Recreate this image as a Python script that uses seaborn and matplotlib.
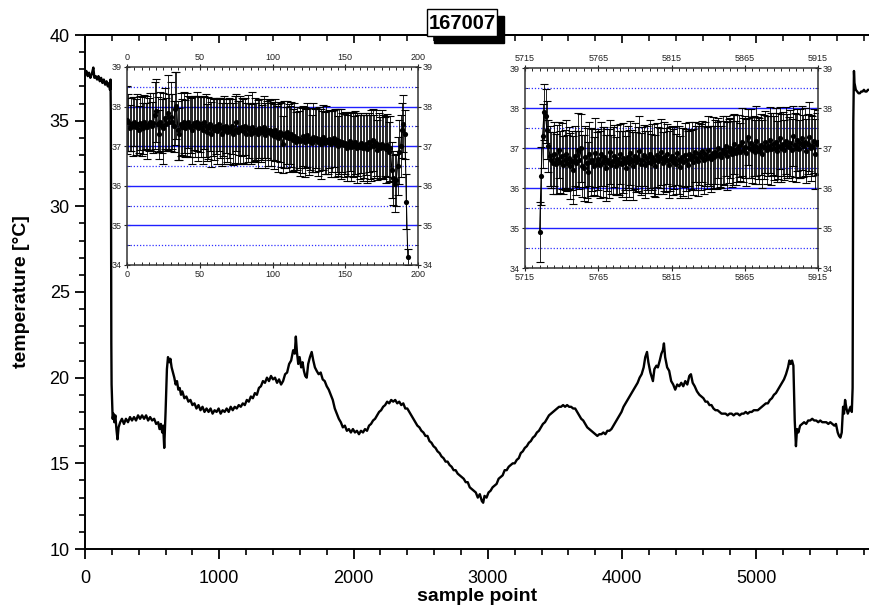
import matplotlib
matplotlib.use("Agg")
import matplotlib.pyplot as plt
from matplotlib.patches import Rectangle
import pandas as pd
import seaborn as sns
from matplotlib.ticker import MultipleLocator

# ---------------- data ----------------
title_text = "167007"
xlabel_text = "sample point"
ylabel_text = "temperature [°C]"

main_x = [0, 10, 20, 30, 40, 50, 62, 70, 80, 90, 100, 110, 120, 130, 140, 150, 160, 170, 180, 186,
          190, 192, 194, 196, 198, 202, 206, 212, 218, 226, 234, 242, 250, 262, 275, 290, 305, 320,
          335, 350, 365, 380, 395, 410, 425, 440, 455, 470, 485, 500, 515, 530, 545, 555, 565, 575,
          582, 590, 600, 610, 618, 628, 636, 645, 655, 665, 675, 685, 695, 705, 715, 725, 740, 755,
          770, 785, 800, 815, 830, 845, 860, 875, 890, 905, 920, 935, 950, 965, 980, 995, 1010, 1025,
          1040, 1055, 1070, 1085, 1100, 1115, 1130, 1145, 1160, 1175, 1190, 1205, 1220, 1235, 1250,
          1265, 1280, 1295, 1310, 1325, 1340, 1355, 1370, 1385, 1400, 1415, 1430, 1445, 1460, 1475,
          1490, 1505, 1520, 1535, 1550, 1562, 1570, 1578, 1588, 1598, 1610, 1620, 1630, 1640, 1651,
          1662, 1675, 1688, 1700, 1712, 1725, 1740, 1755, 1770, 1785, 1800, 1815, 1830, 1845, 1860,
          1875, 1890, 1905, 1920, 1935, 1950, 1965, 1980, 1995, 2010, 2025, 2040, 2055, 2070, 2085,
          2100, 2115, 2130, 2145, 2160, 2175, 2190, 2205, 2220, 2235, 2250, 2265, 2280, 2295, 2310,
          2325, 2340, 2355, 2370, 2385, 2400, 2415, 2430, 2445, 2460, 2475, 2490, 2505, 2520, 2535,
          2550, 2565, 2580, 2595, 2610, 2625, 2640, 2655, 2670, 2685, 2700, 2715, 2730, 2745, 2760,
          2775, 2790, 2805, 2820, 2835, 2850, 2865, 2880, 2895, 2910, 2925, 2940, 2955, 2965, 2975,
          2990, 3005, 3020, 3035, 3050, 3065, 3080, 3095, 3110, 3125, 3140, 3155, 3170, 3185, 3200,
          3215, 3230, 3245, 3260, 3275, 3290, 3305, 3320, 3335, 3350, 3365, 3380, 3395, 3410, 3425,
          3440, 3455, 3470, 3485, 3500, 3515, 3530, 3545, 3560, 3575, 3590, 3605, 3620, 3635, 3650,
          3665, 3680, 3695, 3710, 3725, 3740, 3755, 3770, 3785, 3800, 3815, 3830, 3845, 3860, 3875,
          3890, 3905, 3920, 3935, 3950, 3965, 3980, 3995, 4010, 4025, 4040, 4055, 4070, 4085, 4100,
          4115, 4130, 4145, 4160, 4172, 4185, 4195, 4210, 4229, 4240, 4255, 4266, 4280, 4292, 4303,
          4311, 4320, 4335, 4350, 4365, 4380, 4395, 4410, 4425, 4440, 4455, 4470, 4485, 4500, 4512,
          4525, 4540, 4557, 4575, 4590, 4605, 4620, 4635, 4650, 4665, 4680, 4695, 4710, 4725, 4740,
          4755, 4770, 4785, 4800, 4815, 4830, 4845, 4860, 4875, 4890, 4905, 4920, 4935, 4950, 4965,
          4980, 4995, 5010, 5025, 5040, 5055, 5070, 5085, 5100, 5115, 5130, 5145, 5160, 5175, 5190,
          5205, 5220, 5235, 5245, 5255, 5265, 5275, 5285, 5294, 5302, 5312, 5325, 5340, 5355, 5370,
          5385, 5400, 5415, 5430, 5445, 5460, 5475, 5490, 5505, 5520, 5535, 5550, 5565, 5580, 5592,
          5605, 5615, 5625, 5635, 5645, 5652, 5660, 5670, 5680, 5690, 5700, 5710, 5716, 5721, 5723,
          5726, 5730, 5740, 5750, 5760, 5770, 5780, 5790, 5800, 5810, 5820, 5830, 5840]

main_temp = [37.7, 37.9, 37.6, 37.8, 37.5, 37.7, 38.1, 37.5, 37.6, 37.4, 37.6, 37.3, 37.5, 37.2, 37.4, 37.1, 37.3, 37.0, 37.2, 36.8,
             37.4, 35.6, 30.0, 22.0, 19.6, 18.5, 17.6, 17.9, 17.4, 17.8, 17.0, 16.4, 17.1, 17.4, 17.6, 17.3, 17.6, 17.4,
             17.7, 17.5, 17.7, 17.5, 17.8, 17.6, 17.8, 17.6, 17.8, 17.5, 17.7, 17.5, 17.6, 17.3, 17.4, 17.0, 17.3, 16.8,
             17.2, 15.9, 18.0, 20.5, 21.2, 20.9, 21.1, 20.6, 20.3, 20.0, 19.6, 19.8, 19.3, 19.4, 19.0, 19.2, 18.8, 18.9,
             18.6, 18.7, 18.4, 18.5, 18.2, 18.4, 18.1, 18.3, 18.0, 18.2, 18.0, 18.2, 17.9, 18.1, 18.0, 18.2, 17.9, 18.1,
             18.0, 18.2, 18.0, 18.3, 18.1, 18.3, 18.2, 18.4, 18.3, 18.5, 18.4, 18.7, 18.6, 18.9, 18.8,
             19.1, 19.0, 19.4, 19.5, 19.8, 19.7, 20.0, 19.8, 20.1, 19.9, 20.0, 19.7, 19.9, 19.6, 19.8,
             20.2, 20.3, 20.8, 21.0, 21.6, 21.4, 22.4, 21.5, 20.8, 21.2, 20.6, 20.9, 20.4, 20.1, 20.0,
             20.8, 21.2, 21.5, 21.0, 20.6, 20.4, 20.2, 20.3, 19.9, 19.8, 19.5, 19.3, 19.0, 18.7, 18.2,
             17.9, 17.6, 17.4, 17.1, 17.2, 16.9, 17.0, 16.8, 17.0, 16.8, 16.9, 16.7, 16.9, 16.8, 17.0,
             16.9, 17.2, 17.3, 17.5, 17.6, 17.8, 18.0, 18.1, 18.3, 18.4, 18.6, 18.5, 18.7, 18.6, 18.7,
             18.5, 18.6, 18.4, 18.5, 18.2, 18.2, 18.0, 17.8, 17.6, 17.4, 17.2, 17.1, 16.9, 16.8, 16.6,
             16.6, 16.3, 16.2, 16.0, 15.9, 15.7, 15.6, 15.4, 15.3, 15.1, 15.1, 14.9, 14.8, 14.6, 14.6,
             14.4, 14.3, 14.2, 14.1, 13.9, 13.9, 13.6, 13.5, 13.4, 13.3, 13.0, 13.2, 12.8, 12.7, 13.1,
             13.0, 13.3, 13.4, 13.6, 13.7, 13.8, 14.1, 14.2, 14.3, 14.6, 14.6, 14.8, 14.9, 15.0, 15.0,
             15.2, 15.3, 15.6, 15.7, 15.9, 16.0, 16.2, 16.3, 16.5, 16.6, 16.8, 16.9, 17.1, 17.3, 17.4,
             17.6, 17.8, 17.9, 18.0, 18.1, 18.2, 18.3, 18.3, 18.4, 18.3, 18.4, 18.3, 18.3, 18.2, 18.2,
             18.0, 17.8, 17.6, 17.5, 17.3, 17.1, 17.0, 16.9, 16.8, 16.7, 16.6, 16.7, 16.7, 16.8, 16.7,
             16.9, 16.9, 17.0, 17.2, 17.4, 17.6, 17.8, 18.0, 18.3, 18.5, 18.7, 18.9, 19.1, 19.3, 19.5,
             19.7, 20.0, 20.2, 20.6, 21.2, 21.5, 20.9, 20.3, 19.8, 20.5, 20.7, 20.6, 21.0, 21.4, 21.6,
             22.0, 21.2, 20.6, 20.4, 19.8, 19.6, 19.3, 19.6, 19.5, 19.7, 19.5, 19.8, 19.6, 20.1, 20.2,
             19.7, 19.5, 19.2, 19.0, 18.9, 18.8, 18.6, 18.6, 18.4, 18.4, 18.2, 18.1, 18.1, 18.0, 17.9,
             17.9, 17.9, 17.8, 17.9, 17.9, 17.8, 17.9, 17.9, 17.8, 17.9, 17.9, 18.0, 17.9, 18.0, 18.0,
             18.1, 18.1, 18.1, 18.2, 18.3, 18.4, 18.5, 18.5, 18.7, 18.8, 19.0, 19.1, 19.3, 19.5, 19.7,
             19.9, 20.2, 20.6, 21.0, 20.8, 21.0, 20.7, 17.5, 16.0, 17.0, 16.8, 17.2, 17.3, 17.4, 17.3,
             17.5, 17.5, 17.6, 17.5, 17.5, 17.4, 17.5, 17.4, 17.4, 17.4, 17.3, 17.4, 17.3, 17.2, 17.3,
             16.8, 16.6, 16.5, 16.8, 18.3, 17.9, 18.7, 18.2, 17.9, 18.1, 18.3, 18.0, 19.4, 34.9, 36.3,
             37.9, 37.2, 36.8, 36.7, 36.6, 36.6, 36.7, 36.7, 36.8, 36.7, 36.7, 36.8, 36.8]

inset1_x = list(range(0, 194))
inset1_mean = [37.66, 37.60, 37.45, 37.55, 37.50, 37.62, 37.48, 37.55, 37.42, 37.58,
               37.50, 37.45, 37.60, 37.52, 37.48, 37.55, 37.62, 37.50, 37.58, 37.78,
               37.90, 37.55, 37.30, 37.62, 37.50, 37.45, 37.70, 37.55, 37.85, 37.60,
               37.75, 37.62, 37.50, 37.95, 38.02, 37.40, 37.30, 37.55, 37.48, 37.60,
               37.45, 37.55, 37.62, 37.48, 37.52, 37.40, 37.58, 37.50, 37.62, 37.45,
               37.55, 37.48, 37.40, 37.60, 37.52, 37.35, 37.45, 37.55, 37.30, 37.48,
               37.42, 37.50, 37.38, 37.55, 37.45, 37.30, 37.48, 37.40, 37.52, 37.35,
               37.45, 37.38, 37.50, 37.30, 37.42, 37.60, 37.35, 37.45, 37.40, 37.48,
               37.38, 37.50, 37.32, 37.45, 37.40, 37.30, 37.48, 37.35, 37.42, 37.38,
               37.30, 37.45, 37.40, 37.35, 37.48, 37.28, 37.42, 37.35, 37.40, 37.30,
               37.38, 37.25, 37.40, 37.32, 37.20, 37.35, 37.28, 37.05, 37.30, 37.22,
               37.35, 37.20, 37.28, 37.30, 37.15, 37.25, 37.10, 37.20, 37.18, 37.12,
               37.15, 37.25, 37.10, 37.20, 37.28, 37.12, 37.18, 37.08, 37.22, 37.15,
               37.20, 37.10, 37.18, 37.05, 37.15, 37.22, 37.08, 37.15, 37.10, 37.18,
               37.05, 37.12, 37.20, 37.08, 37.15, 37.00, 37.12, 37.05, 37.10, 37.02,
               37.08, 36.95, 37.05, 37.12, 36.98, 37.05, 37.00, 37.10, 36.95, 37.02,
               36.98, 37.08, 36.95, 37.00, 37.05, 36.92, 37.10, 36.98, 37.02, 37.15,
               37.00, 37.08, 36.90, 37.02, 36.95, 37.05, 36.98, 37.00, 36.92, 37.02,
               36.85, 36.95, 36.40, 36.20, 36.05, 36.15, 36.50, 36.85, 37.00, 37.40,
               37.57, 37.30, 35.60, 34.20]
inset1_err = [0.85, 0.72, 0.58, 0.66, 0.74, 0.62, 0.70, 0.78, 0.60, 0.68,
              0.75, 0.64, 0.70, 0.58, 0.80, 0.66, 0.72, 0.62, 0.76, 0.85,
              0.80, 0.70, 0.62, 0.74, 0.68, 0.90, 0.78, 0.66, 0.95, 0.72,
              0.88, 0.70, 0.64, 0.92, 0.85, 0.74, 0.66, 0.80, 0.70, 0.76,
              0.72, 0.80, 0.66, 0.75, 0.70, 0.84, 0.68, 0.78, 0.74, 0.82,
              0.70, 0.76, 0.85, 0.68, 0.80, 0.72, 0.78, 0.66, 0.82, 0.74,
              0.78, 0.70, 0.84, 0.66, 0.76, 0.80, 0.72, 0.86, 0.68, 0.74,
              0.76, 0.82, 0.70, 0.78, 0.84, 0.72, 0.80, 0.68, 0.86, 0.74,
              0.80, 0.72, 0.78, 0.85, 0.70, 0.76, 0.88, 0.74, 0.80, 0.72,
              0.86, 0.74, 0.80, 0.70, 0.78, 0.82, 0.72, 0.84, 0.76, 0.80,
              0.74, 0.82, 0.78, 0.70, 0.86, 0.76, 0.80, 0.72, 0.84, 0.78,
              0.80, 0.86, 0.74, 0.82, 0.78, 0.84, 0.76, 0.80, 0.72, 0.86,
              0.82, 0.76, 0.88, 0.74, 0.80, 0.84, 0.78, 0.72, 0.86, 0.80,
              0.76, 0.84, 0.80, 0.88, 0.74, 0.82, 0.78, 0.86, 0.80, 0.74,
              0.84, 0.78, 0.72, 0.86, 0.80, 0.76, 0.82, 0.88, 0.74, 0.80,
              0.78, 0.84, 0.80, 0.74, 0.86, 0.82, 0.76, 0.80, 0.88, 0.78,
              0.82, 0.76, 0.84, 0.80, 0.78, 0.86, 0.74, 0.82, 0.90, 0.78,
              0.80, 0.84, 0.76, 0.82, 0.78, 0.86, 0.80, 0.74, 0.84, 0.80,
              0.76, 0.82, 0.70, 0.68, 0.72, 0.66, 0.74, 0.80, 0.78, 0.70,
              0.72, 0.62, 0.70, 0.20]

inset2_x = list(range(5725, 5916))
inset2_mean = [34.90, 36.30, 37.30, 37.90, 37.80, 37.45, 37.05, 36.80, 36.70, 36.62,
               36.85, 36.60, 36.72, 36.95, 36.65, 36.80, 36.58, 36.70, 36.85, 36.62,
               36.75, 36.55, 36.68, 36.45, 36.80, 36.62, 36.95, 36.70, 37.00, 36.55,
               36.50, 36.78, 36.62, 36.40, 36.85, 36.65, 36.70, 36.55, 36.88, 36.60,
               36.72, 36.58, 36.85, 36.65, 36.78, 36.50, 36.70, 36.62, 36.90, 36.58,
               36.68, 36.80, 36.55, 36.72, 36.62, 36.85, 36.60, 36.75, 36.68, 36.50,
               36.78, 36.62, 36.88, 36.70, 36.55, 36.80, 36.65, 36.72, 36.92, 36.60,
               36.70, 36.82, 36.58, 36.75, 36.65, 36.85, 36.62, 36.78, 36.70, 36.55,
               36.82, 36.68, 36.75, 36.90, 36.62, 36.78, 36.70, 36.85, 36.58, 36.72,
               36.80, 36.65, 36.75, 36.60, 36.88, 36.70, 36.52, 36.78, 36.65, 36.82,
               36.70, 36.58, 36.85, 36.72, 36.80, 36.65, 36.90, 36.75, 36.68, 36.85,
               36.78, 36.92, 36.70, 36.85, 36.75, 36.95, 36.80, 36.72, 36.88, 36.78,
               36.90, 36.82, 37.00, 36.85, 36.78, 36.95, 36.88, 37.05, 36.80, 36.92,
               37.00, 36.85, 36.95, 37.10, 36.88, 36.98, 37.05, 36.90, 37.15, 36.95,
               37.02, 36.88, 37.28, 37.00, 37.12, 36.95, 37.05, 36.90, 37.18, 37.00,
               36.92, 37.08, 36.85, 37.02, 37.15, 36.95, 37.05, 37.20, 36.98, 37.10,
               37.00, 37.15, 36.92, 37.05, 37.25, 37.00, 37.10, 36.95, 37.18, 37.05,
               37.02, 37.12, 36.95, 37.30, 37.08, 37.00, 37.20, 36.98, 37.12, 37.25,
               37.05, 37.15, 36.92, 37.10, 37.28, 37.00, 37.05, 37.18, 36.85, 37.10,
               37.15]
inset2_err = [0.75, 0.72, 0.80, 0.70, 0.68, 0.72, 0.66, 0.74, 0.70, 0.78,
              0.80, 0.74, 0.86, 0.70, 0.78, 0.82, 0.72, 0.76, 0.84, 0.70,
              0.78, 0.82, 0.74, 0.86, 0.76, 0.80, 0.92, 0.72, 0.84, 0.78,
              0.82, 0.76, 0.88, 0.74, 0.80, 0.84, 0.78, 0.72, 0.86, 0.80,
              0.76, 0.84, 0.80, 0.88, 0.74, 0.82, 0.78, 0.86, 0.80, 0.74,
              0.84, 0.78, 0.72, 0.86, 0.80, 0.76, 0.82, 0.88, 0.74, 0.80,
              0.78, 0.84, 0.80, 0.74, 0.86, 0.82, 0.76, 0.80, 0.88, 0.78,
              0.82, 0.76, 0.84, 0.80, 0.78, 0.86, 0.74, 0.82, 0.90, 0.78,
              0.80, 0.84, 0.76, 0.82, 0.78, 0.86, 0.80, 0.74, 0.84, 0.80,
              0.76, 0.82, 0.78, 0.74, 0.80, 0.84, 0.78, 0.72, 0.86, 0.80,
              0.78, 0.84, 0.80, 0.74, 0.86, 0.82, 0.76, 0.80, 0.88, 0.78,
              0.82, 0.76, 0.84, 0.80, 0.78, 0.86, 0.74, 0.82, 0.90, 0.78,
              0.80, 0.84, 0.76, 0.82, 0.78, 0.86, 0.80, 0.74, 0.84, 0.80,
              0.76, 0.82, 0.88, 0.74, 0.80, 0.84, 0.78, 0.72, 0.86, 0.80,
              0.78, 0.84, 0.70, 0.74, 0.86, 0.82, 0.76, 0.80, 0.88, 0.78,
              0.82, 0.76, 0.84, 0.80, 0.78, 0.86, 0.74, 0.82, 0.90, 0.78,
              0.80, 0.84, 0.76, 0.82, 0.78, 0.86, 0.80, 0.74, 0.84, 0.80,
              0.76, 0.82, 0.78, 0.74, 0.80, 0.84, 0.78, 0.72, 0.86, 0.80,
              0.78, 0.84, 0.80, 0.74, 0.86, 0.82, 0.76, 0.80, 0.88, 0.78,
              0.80]

main_xticks = [0, 1000, 2000, 3000, 4000, 5000]
main_yticks = [10, 15, 20, 25, 30, 35, 40]
inset_yticks = [34, 35, 36, 37, 38, 39]
inset_solid_levels = [35, 36, 37, 38]
inset_dotted_levels = [34.5, 35.5, 36.5, 37.5, 38.5]
inset1_xticks = [0, 50, 100, 150, 200]
inset2_xticks = [5715, 5765, 5815, 5865, 5915]

# ---------------- style ----------------
sns.set_style("ticks")
plt.rcParams['font.family'] = ['Liberation Sans', 'DejaVu Sans']

W, H = 869, 609
fig = plt.figure(figsize=(W / 100, H / 100), dpi=100)


def fx(px):
    return px / W


def fy(py):
    return 1 - py / H


# ---------------- main axes ----------------
ax = fig.add_axes([fx(85), fy(549), fx(869) - fx(85), fy(35) - fy(549)])
df_main = pd.DataFrame({"x": main_x, "T": main_temp})
sns.lineplot(data=df_main, x="x", y="T", ax=ax, color="black", lw=1.7,
             estimator=None, sort=False)
ax.set_xlim(0, 5838)
ax.set_ylim(10, 40)
ax.set_xticks(main_xticks)
ax.set_yticks(main_yticks)
ax.xaxis.set_minor_locator(MultipleLocator(200))
ax.yaxis.set_minor_locator(MultipleLocator(1))
ax.tick_params(axis="both", which="major", direction="out", length=7, width=1.3,
               labelsize=13, colors="black")
ax.tick_params(axis="x", which="major", pad=8)
ax.tick_params(axis="y", which="major", pad=4)
ax.tick_params(axis="both", which="minor", direction="out", length=4, width=1.2,
               colors="black")
for s in ["left", "bottom", "top"]:
    ax.spines[s].set_linewidth(1.4)
    ax.spines[s].set_color("black")
ax.spines["right"].set_visible(False)
ax.set_xlabel(xlabel_text, fontsize=14, fontweight="bold", labelpad=1, color="black")
ax.set_ylabel(ylabel_text, fontsize=14, fontweight="bold", labelpad=14, color="black")

# top ticks pointing inward, no labels
sec = ax.secondary_xaxis("top")
sec.set_xticks(main_xticks)
sec.xaxis.set_minor_locator(MultipleLocator(200))
sec.tick_params(which="major", direction="in", length=6, width=1.2, labeltop=False,
                colors="black")
sec.tick_params(which="minor", direction="in", length=4, width=1.1, colors="black")
sec.spines["top"].set_linewidth(1.4)
sec.spines["top"].set_color("black")


# ---------------- insets ----------------
def make_inset(rect, xs, means, errs, xlim, xticks, minor):
    ia = fig.add_axes(rect)
    ia.set_facecolor("white")
    for lv in inset_solid_levels:
        ia.axhline(lv, color="#1f1fff", lw=1.0, zorder=1)
    for lv in inset_dotted_levels:
        ia.axhline(lv, color="#3030ff", lw=0.9, ls=(0, (1, 1.5)), zorder=1)
    ia.errorbar(xs, means, yerr=errs, fmt="none", ecolor="black", elinewidth=0.6,
                capsize=3.2, capthick=0.8, zorder=2)
    dfi = pd.DataFrame({"x": xs, "T": means})
    sns.lineplot(data=dfi, x="x", y="T", ax=ia, color="black", lw=0.8,
                 estimator=None, sort=False, zorder=3)
    sns.scatterplot(data=dfi, x="x", y="T", ax=ia, color="black", s=14,
                    edgecolor="black", linewidth=0, zorder=4)
    ia.set_xlim(*xlim)
    ia.set_ylim(34, 39)
    ia.set_xticks(xticks)
    ia.set_yticks(inset_yticks)
    ia.xaxis.set_minor_locator(MultipleLocator(minor))
    ia.yaxis.set_minor_locator(MultipleLocator(0.5))
    ia.tick_params(axis="both", which="major", labelsize=6.5, length=4, width=0.8,
                   direction="inout", colors="#222222", pad=1.5,
                   top=True, right=True, labeltop=True, labelright=True)
    ia.tick_params(axis="both", which="minor", length=2.5, width=0.7, direction="in",
                   top=True, right=True)
    for s in ia.spines.values():
        s.set_linewidth(1.1)
        s.set_color("#333333")
    ia.set_xlabel("")
    ia.set_ylabel("")
    return ia


make_inset([fx(127), fy(265), fx(418) - fx(127), fy(67) - fy(265)],
           inset1_x, inset1_mean, inset1_err, (0, 200), inset1_xticks, 5)
make_inset([fx(525), fy(268), fx(818) - fx(525), fy(68) - fy(268)],
           inset2_x, inset2_mean, inset2_err, (5715, 5915), inset2_xticks, 5)

# ---------------- title box with shadow ----------------
bx0, by0, bx1, by1 = 427, 9, 497, 36
sh = 7
fig.patches.append(Rectangle((fx(bx0 + sh), fy(by1 + sh)), fx(bx1 - bx0), (by1 - by0) / H,
                             transform=fig.transFigure, facecolor="black",
                             edgecolor="black", zorder=5))
fig.patches.append(Rectangle((fx(bx0), fy(by1)), fx(bx1 - bx0), (by1 - by0) / H,
                             transform=fig.transFigure, facecolor="white",
                             edgecolor="black", lw=1.0, zorder=6))
fig.text(fx((bx0 + bx1) / 2), fy((by0 + by1) / 2 + 1), title_text, fontsize=14.5,
         fontweight="bold", color="black", ha="center", va="center", zorder=7)

fig.savefig("out.png", dpi=100)
